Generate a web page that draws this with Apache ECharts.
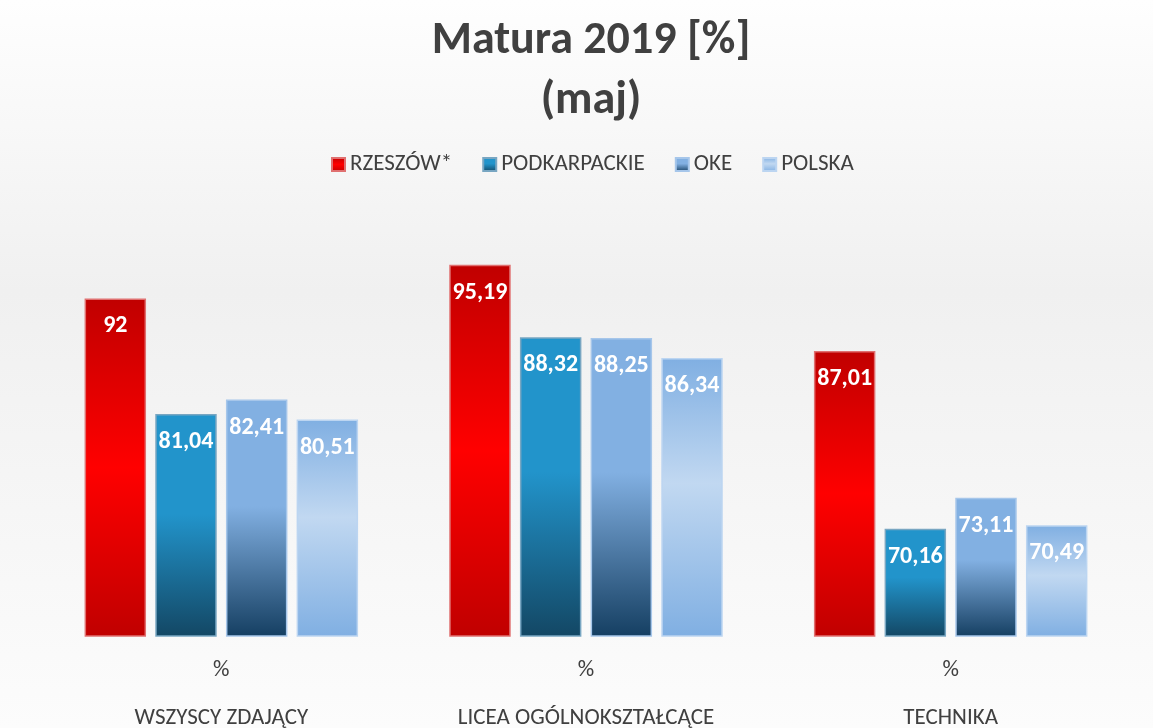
<!DOCTYPE html>
<html lang="pl">
<head>
    <meta charset="UTF-8"/>
    <title>Matura 2019</title>
    <script src="https://cdn.jsdelivr.net/npm/echarts@6/dist/echarts.min.js"></script>
    <style>
        html, body { margin: 0; padding: 0; }
        #main { width: 1153px; height: 728px; }
    </style>
</head>
<body>
<div id="main"></div>
<script>
    // dane
    var categories = ['WSZYSCY ZDAJĄCY', 'LICEA OGÓLNOKSZTAŁCĄCE', 'TECHNIKA'];
    var seriesNames = ['RZESZÓW*', 'PODKARPACKIE', 'OKE', 'POLSKA'];
    var rzeszow = [92, 95.19, 87.01];
    var podkarpackie = [81.04, 88.32, 70.16];
    var oke = [82.41, 88.25, 73.11];
    var polska = [80.51, 86.34, 70.49];

    var FONT = 'Carlito, Lato, sans-serif';
    var G = echarts.graphic.LinearGradient;
    // gradienty słupków (jak w Excelu)
    var fills = [
        new G(0, 0, 0, 1, [{offset: 0, color: '#c00000'}, {offset: 0.5, color: '#ff0000'}, {offset: 1, color: '#c00000'}]),
        new G(0, 0, 0, 1, [{offset: 0, color: '#2294cb'}, {offset: 0.45, color: '#2294cb'}, {offset: 1, color: '#134764'}]),
        new G(0, 0, 0, 1, [{offset: 0, color: '#82b0e2'}, {offset: 0.45, color: '#82b0e2'}, {offset: 1, color: '#153f62'}]),
        new G(0, 0, 0, 1, [{offset: 0, color: '#80afe2'}, {offset: 0.45, color: '#c1d8f1'}, {offset: 1, color: '#80afe2'}])
    ];
    var borders = ['#e07070', '#78a6c2', '#a6c6ea', '#bcd5f1'];
    var values = [rzeszow, podkarpackie, oke, polska];

    var myChart = echarts.init(document.getElementById('main'));

    var series = [];
    for (var i = 0; i < seriesNames.length; i++) {
        series.push({
            name: seriesNames[i],
            type: 'bar',
            data: values[i],
            barGap: '15%',
            barCategoryGap: '25%',
            itemStyle: {
                color: fills[i],
                borderColor: borders[i],
                borderWidth: 1.5
            },
            label: {
                show: true,
                position: 'insideTop',
                distance: 16,
                color: '#ffffff',
                fontSize: 24,
                fontWeight: 'bold',
                fontFamily: FONT,
                formatter: function (p) {
                    return String(p.value).replace('.', ',');
                }
            }
        });
    }

    myChart.setOption({
        backgroundColor: new G(0, 0, 0, 1, [
            {offset: 0, color: '#fefefe'},
            {offset: 0.4, color: '#f0f0f0'},
            {offset: 1, color: '#fcfcfc'}
        ]),
        animation: false,
        title: {
            text: 'Matura 2019 [%]\n(maj)',
            left: 586,
            textAlign: 'center',
            top: 6,
            textStyle: {
                fontSize: 46,
                fontWeight: 'bold',
                color: '#404040',
                lineHeight: 60,
                fontFamily: FONT
            }
        },
        legend: {
            top: 148,
            left: 326,
            itemWidth: 13,
            itemHeight: 13,
            itemGap: 30,
            icon: 'rect',
            textStyle: {
                fontSize: 23,
                color: '#404040',
                fontFamily: FONT
            },
            data: seriesNames
        },
        grid: {
            left: 39,
            right: 20,
            top: 214,
            bottom: 92,
            outerBoundsMode: 'none',
            containLabel: false
        },
        xAxis: {
            type: 'category',
            data: categories,
            axisLine: {show: false},
            axisTick: {show: false},
            axisLabel: {
                margin: 10,
                formatter: function (v) {
                    return '{p|%}\n{n|' + v + '}';
                },
                rich: {
                    p: {fontSize: 23, color: '#404040', lineHeight: 48, fontFamily: FONT},
                    n: {fontSize: 23, color: '#404040', lineHeight: 48, fontFamily: FONT}
                }
            }
        },
        yAxis: {
            type: 'value',
            min: 60,
            max: 100,
            interval: 10,
            show: false,
            splitLine: {show: false}
        },
        series: series
    });
</script>
</body>
</html>
